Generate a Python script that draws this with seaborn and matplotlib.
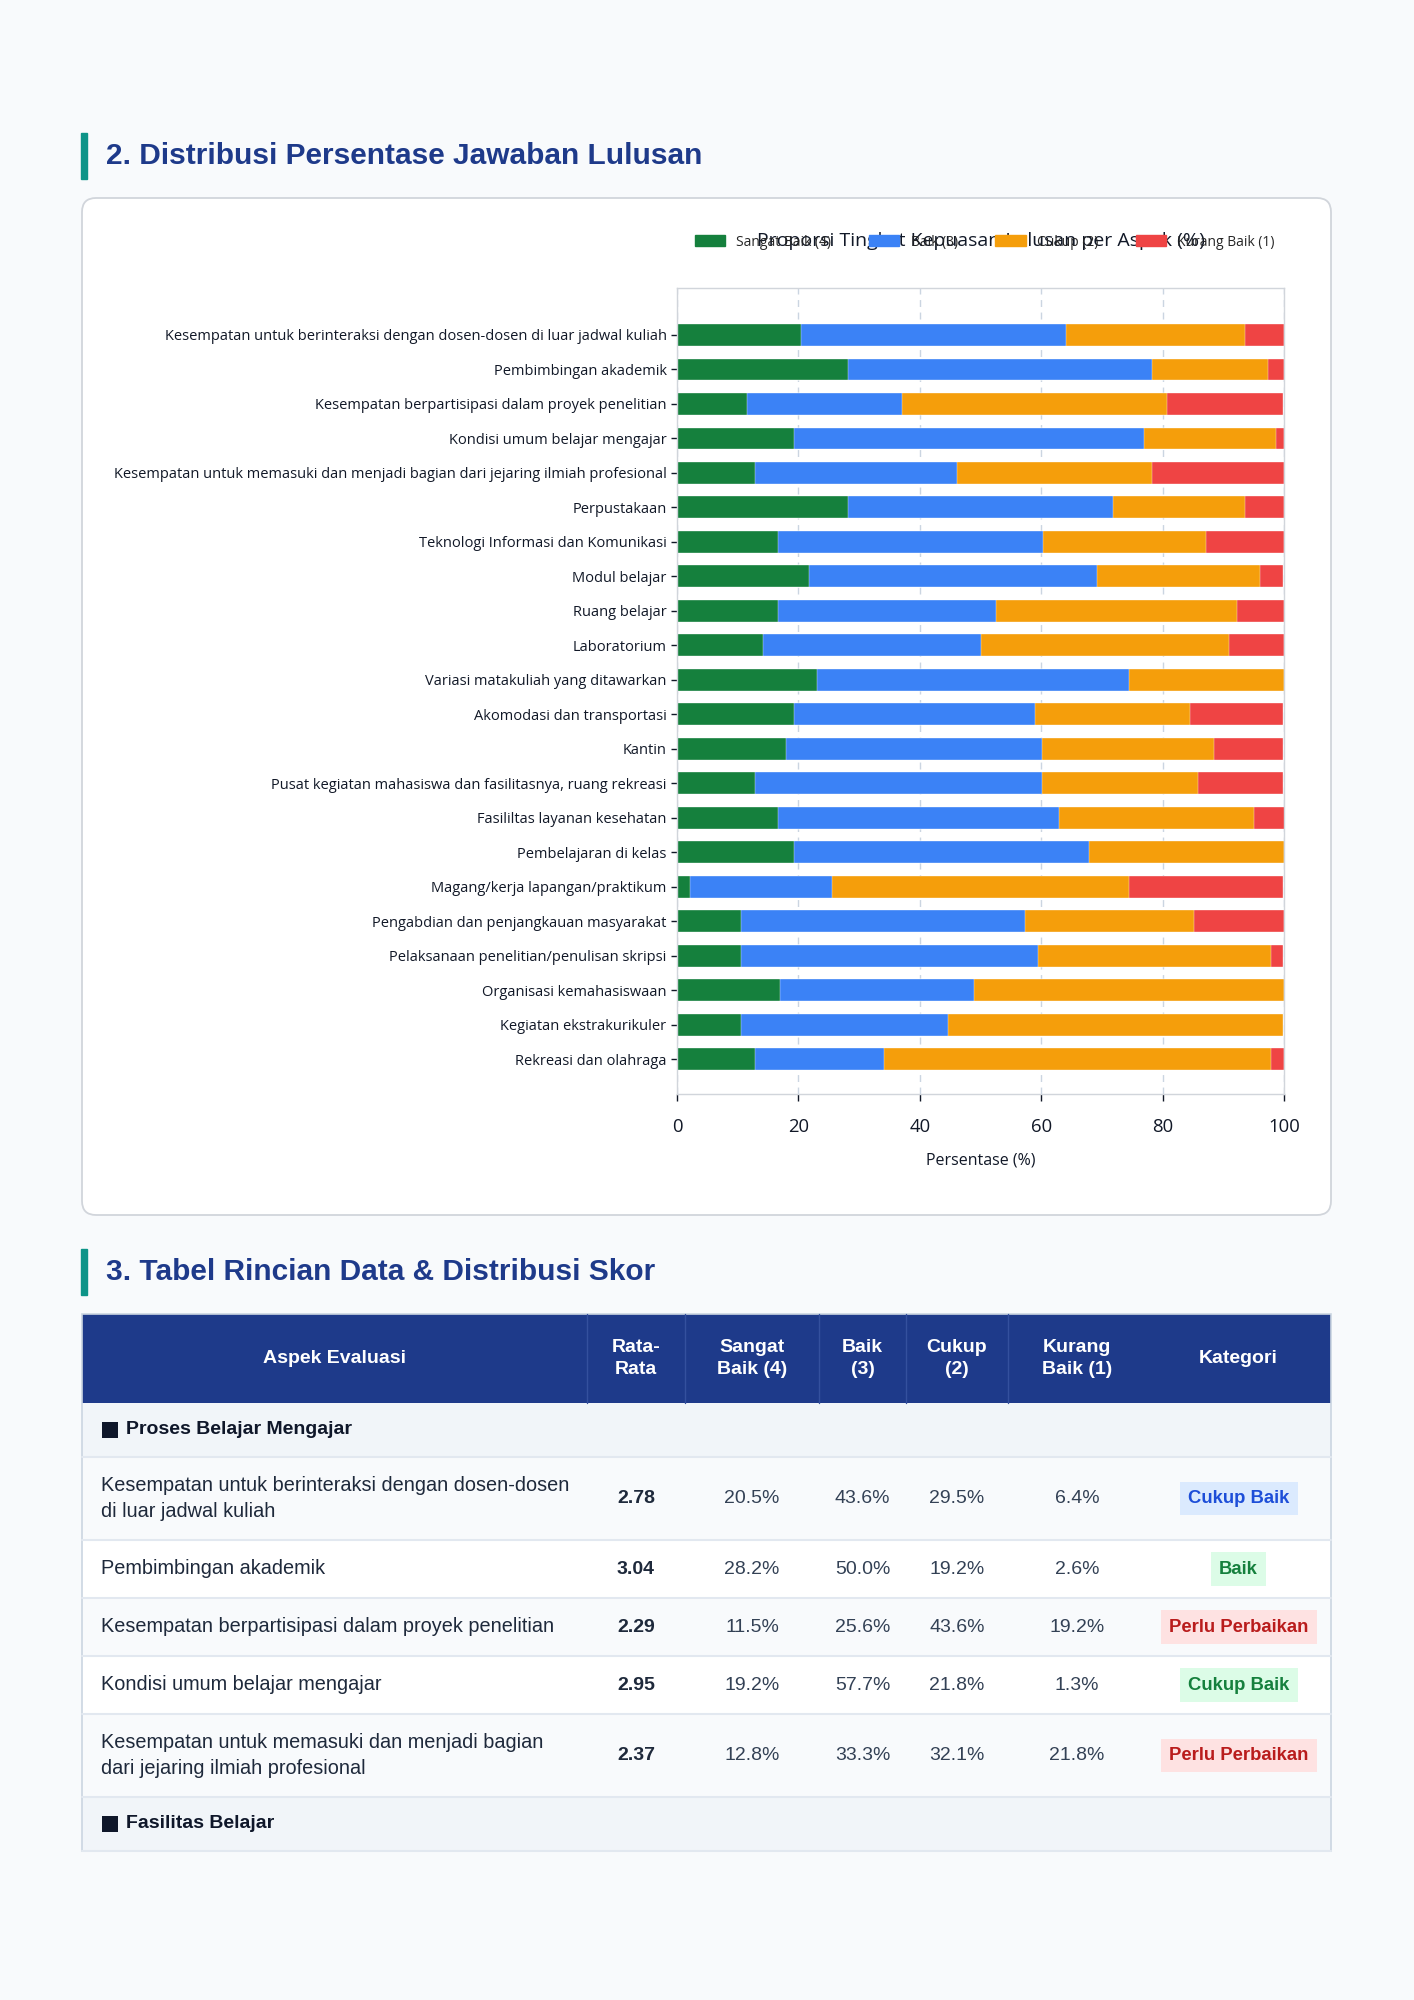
import matplotlib
matplotlib.use("Agg")
import matplotlib.pyplot as plt
from matplotlib.patches import FancyBboxPatch, Rectangle, Patch
import seaborn as sns
import pandas as pd

# ---- chart data (percent of answers per aspect) ----
aspek = [
    "Kesempatan untuk berinteraksi dengan dosen-dosen di luar jadwal kuliah",
    "Pembimbingan akademik",
    "Kesempatan berpartisipasi dalam proyek penelitian",
    "Kondisi umum belajar mengajar",
    "Kesempatan untuk memasuki dan menjadi bagian dari jejaring ilmiah profesional",
    "Perpustakaan",
    "Teknologi Informasi dan Komunikasi",
    "Modul belajar",
    "Ruang belajar",
    "Laboratorium",
    "Variasi matakuliah yang ditawarkan",
    "Akomodasi dan transportasi",
    "Kantin",
    "Pusat kegiatan mahasiswa dan fasilitasnya, ruang rekreasi",
    "Fasililtas layanan kesehatan",
    "Pembelajaran di kelas",
    "Magang/kerja lapangan/praktikum",
    "Pengabdian dan penjangkauan masyarakat",
    "Pelaksanaan penelitian/penulisan skripsi",
    "Organisasi kemahasiswaan",
    "Kegiatan ekstrakurikuler",
    "Rekreasi dan olahraga",
]
sangat_baik = [20.5, 28.2, 11.5, 19.2, 12.8, 28.2, 16.7, 21.8, 16.7, 14.1, 23.1,
               19.2, 17.9, 12.8, 16.7, 19.2, 2.1, 10.6, 10.6, 17.0, 10.6, 12.8]
baik = [43.6, 50.0, 25.6, 57.7, 33.3, 43.6, 43.6, 47.4, 35.9, 35.9, 51.3,
        39.7, 42.3, 47.4, 46.2, 48.7, 23.4, 46.8, 48.9, 31.9, 34.0, 21.3]
cukup = [29.5, 19.2, 43.6, 21.8, 32.1, 21.8, 26.9, 26.9, 39.7, 41.0, 25.6,
         25.6, 28.2, 25.6, 32.1, 32.1, 48.9, 27.7, 38.3, 51.1, 55.3, 63.8]
kurang_baik = [6.4, 2.6, 19.2, 1.3, 21.8, 6.4, 12.8, 3.8, 7.7, 9.0, 0.0,
               15.4, 11.5, 14.1, 5.1, 0.0, 25.5, 14.9, 2.1, 0.0, 0.0, 2.1]

level_labels = ["Sangat Baik (4)", "Baik (3)", "Cukup (2)", "Kurang Baik (1)"]
level_colors = ["#15803d", "#3b82f6", "#f59e0b", "#ef4444"]
x_ticks = [0, 20, 40, 60, 80, 100]

# ---- table data (first group) ----
tabel_label = [
    "Kesempatan untuk berinteraksi dengan dosen-dosen\ndi luar jadwal kuliah",
    "Pembimbingan akademik",
    "Kesempatan berpartisipasi dalam proyek penelitian",
    "Kondisi umum belajar mengajar",
    "Kesempatan untuk memasuki dan menjadi bagian\ndari jejaring ilmiah profesional",
]
tabel_rata = ["2.78", "3.04", "2.29", "2.95", "2.37"]
tabel_kategori = ["Cukup Baik", "Baik", "Perlu Perbaikan", "Cukup Baik", "Perlu Perbaikan"]
tabel_warna = ["blue", "green", "red", "green", "red"]
header_cols = ["Aspek Evaluasi", "Rata-\nRata", "Sangat\nBaik (4)", "Baik\n(3)",
               "Cukup\n(2)", "Kurang\nBaik (1)", "Kategori"]
groups = ["Proses Belajar Mengajar", "Fasilitas Belajar"]

badge_style = {
    "blue": ("#dbeafe", "#1d4ed8"),
    "green": ("#dcfce7", "#15803d"),
    "red": ("#fee2e2", "#b91c1c"),
}

sns.set_theme(style="white")
plt.rcParams["font.family"] = ["Open Sans", "DejaVu Sans"]
TF = ["Liberation Sans", "DejaVu Sans"]

W, H = 1414, 2000
fig = plt.figure(figsize=(W / 100, H / 100), dpi=100, facecolor="#f8fafc")

# background / layout layer in pixel coordinates
bg = fig.add_axes([0, 0, 1, 1], zorder=0)
bg.set_xlim(0, W)
bg.set_ylim(H, 0)
bg.axis("off")

def heading(y, text):
    bg.add_patch(Rectangle((81, y - 23), 6, 46, color="#0d9488"))
    bg.text(106, y, text, fontsize=21.5, fontweight="bold", color="#1e3a8a",
            va="center", ha="left", family=TF)

heading(156, "2. Distribusi Persentase Jawaban Lulusan")
bg.add_patch(FancyBboxPatch((82, 198), 1249, 1017,
                            boxstyle="round,pad=0,rounding_size=14",
                            fc="white", ec="#d1d5db", lw=1.3))

# ---- stacked bar chart ----
ax = fig.add_axes([677 / W, 1 - 1094 / H, 607 / W, 806 / H], zorder=1)
df = pd.DataFrame({"aspek": aspek, level_labels[0]: sangat_baik, level_labels[1]: baik,
                   level_labels[2]: cukup, level_labels[3]: kurang_baik})
cum = df[level_labels].cumsum(axis=1)
cum["aspek"] = df["aspek"]
for lab, col in reversed(list(zip(level_labels, level_colors))):
    sns.barplot(data=cum, x=lab, y="aspek", order=aspek, color=col, width=0.63,
                orient="h", errorbar=None, saturation=1, ax=ax,
                edgecolor="white", linewidth=0.25)

ax.set_xlim(0, 100)
ax.set_ylim(len(aspek) - 1 + 1.01, -1.36)
ax.set_xticks(x_ticks)
ax.set_xlabel("Persentase (%)", fontsize=11.5, color="#111827", labelpad=12)
ax.set_ylabel("")
ax.tick_params(axis="y", labelsize=10.5, colors="#111827", length=4, width=1, left=True)
ax.tick_params(axis="x", labelsize=13.3, colors="#111827", length=5, width=1, bottom=True, pad=12)
ax.xaxis.grid(True, linestyle=(0, (5, 4)), color="#cbd5e1", lw=1)
ax.set_axisbelow(True)
for s in ax.spines.values():
    s.set_color("#d1d5db")
    s.set_linewidth(1)
ax.set_facecolor("white")
ax.set_title("Proporsi Tingkat Kepuasan Lulusan per Aspek (%)", fontsize=14,
             color="#111827", y=1.052, pad=0)
handles = [Patch(color=c, label=l) for l, c in zip(level_labels, level_colors)]
ax.legend(handles=handles, ncol=4, loc="center right", bbox_to_anchor=(0.985, 1.057),
          frameon=False, fontsize=10, handlelength=2.2, handleheight=0.8,
          columnspacing=2.7, handletextpad=0.8, borderaxespad=0, borderpad=0)

# ---- table ----
heading(1272, "3. Tabel Rincian Data & Distribusi Skor")
col_edges = [82, 587, 685, 819, 906, 1008, 1146, 1331]
col_mid = [(a + b) / 2 for a, b in zip(col_edges[:-1], col_edges[1:])]
tab_top, head_bot = 1314, 1403

bg.add_patch(Rectangle((82, tab_top), 1249, head_bot - tab_top, fc="#1e3a8a", ec="none"))
for xe in col_edges[1:-2]:
    bg.plot([xe, xe], [tab_top, head_bot], color="#34509e", lw=1)
for i, h in enumerate(header_cols):
    bg.text(col_mid[i], (tab_top + head_bot) / 2, h, ha="center", va="center",
            fontsize=14, fontweight="bold", color="white", family=TF, linespacing=1.45)

rows = [("group", 0, 54)] + [("data", i, 83 if "\n" in tabel_label[i] else 58)
                             for i in range(len(tabel_label))] + [("group", 1, 54)]
y = head_bot
for kind, i, h in rows:
    if kind == "group":
        bg.add_patch(Rectangle((82, y), 1249, h, fc="#f1f5f9", ec="none"))
        bg.add_patch(Rectangle((102, y + h / 2 - 8), 16, 16, fc="#0f172a", ec="none"))
        bg.text(126, y + h / 2, groups[i], ha="left", va="center", fontsize=14,
                fontweight="bold", color="#0f172a", family=TF)
    else:
        fc = "#f8fafc" if i % 2 == 0 else "white"
        bg.add_patch(Rectangle((82, y), 1249, h, fc=fc, ec="none"))
        cy = y + h / 2
        bg.text(101, cy, tabel_label[i], ha="left", va="center", fontsize=14.3,
                color="#1e293b", family=TF, linespacing=1.45)
        bg.text(col_mid[1], cy, tabel_rata[i], ha="center", va="center", fontsize=14,
                fontweight="bold", color="#1e293b", family=TF)
        for j, vals in enumerate([sangat_baik, baik, cukup, kurang_baik]):
            bg.text(col_mid[2 + j], cy, f"{vals[i]:.1f}%", ha="center", va="center",
                    fontsize=14, color="#334155", family=TF)
        bfc, btc = badge_style[tabel_warna[i]]
        bg.text(col_mid[6], cy, tabel_kategori[i], ha="center", va="center", fontsize=13.3,
                fontweight="bold", color=btc, family=TF,
                bbox=dict(boxstyle="square,pad=0.45", fc=bfc, ec="none"))
    y += h
    bg.plot([82, 1331], [y, y], color="#e2e8f0", lw=1.5)

bg.add_patch(Rectangle((82, tab_top), 1249, y - tab_top, fc="none", ec="#cbd5e1", lw=1.2))

fig.savefig("out.png", dpi=100, facecolor=fig.get_facecolor())
